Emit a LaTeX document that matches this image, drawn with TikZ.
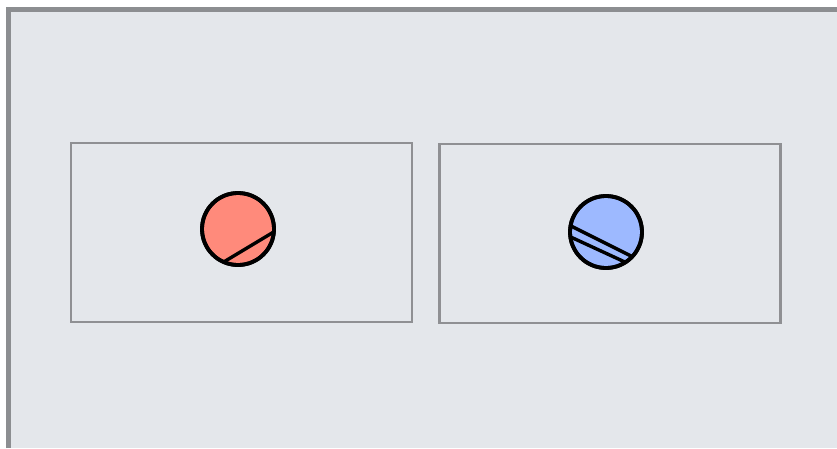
\documentclass[tikz,border=0pt]{standalone}
\usepackage{xcolor}
\usetikzlibrary{positioning,calc}
\definecolor{canvas}{HTML}{E4E7EB}
\definecolor{rim}{HTML}{8C8E91}
\definecolor{frame}{HTML}{8F9093}
\definecolor{salmon}{HTML}{FF8A7B}
\definecolor{sky}{HTML}{9DB9FF}
\tikzset{
  panel/.style={rectangle, draw=frame, line width=2.2pt, minimum width=341pt, minimum height=179pt},
  ball/.style={circle, draw=black, line width=3.8pt, minimum size=72pt, inner sep=0pt},
  chord/.style={draw=black, line width=3.4pt},
}
\begin{document}
\begin{tikzpicture}[x=1pt, y=-1pt]
\useasboundingbox (0,0) rectangle (837,448);
\fill[white] (0,0) rectangle (837,448);
\fill[canvas] (6,7) rectangle (837,448);
\draw[rim, line width=4.5pt] (8.5,448) -- (8.5,9.5) -- (837,9.5);
% the two panels
\node[panel] (left) at (241.5,232.5) {};
\node[panel] (right) at (610,233.5) {};
% red ball with one cut
\node[ball, fill=salmon] (red) at (238,229) {};
\begin{scope}
  \clip (red.center) circle (36pt);
  \draw[chord] ($(227,260)!-1!(272,233)$) -- ($(272,233)!-1!(227,260)$);
\end{scope}
\node[ball] at (red.center) {};
% blue ball with two cuts
\node[ball, fill=sky] (blue) at (606,232) {};
\begin{scope}
  \clip (blue.center) circle (36pt);
  \draw[chord] ($(573,227)!-1!(633,257)$) -- ($(633,257)!-1!(573,227)$);
  \draw[chord] ($(575,239)!-1!(627,263)$) -- ($(627,263)!-1!(575,239)$);
\end{scope}
\node[ball] at (blue.center) {};
\end{tikzpicture}
\end{document}
